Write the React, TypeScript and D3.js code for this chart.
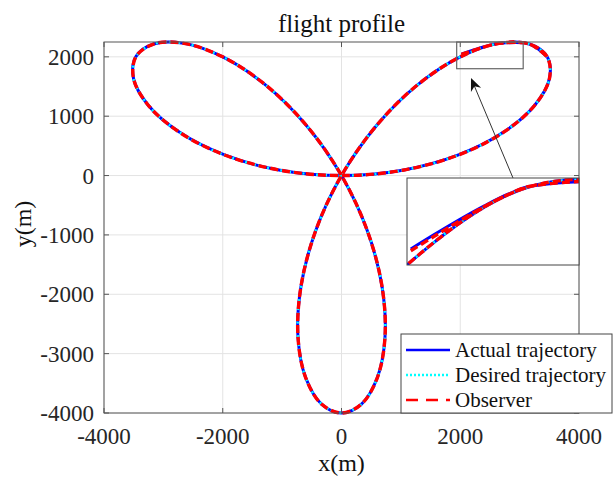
import React from 'react';
import * as d3 from 'd3';

// Reference path (rose-shaped flight plan), sampled every 5 degrees of heading angle
const roseX = [0, 1031, 1970, 2732, 3255, 3502, 3464, 3165, 2654, 2000, 1286, 594, 0, -438, -684, -732, -601, -337, 0, 337, 601, 732, 684, 438, 0, -594, -1286, -2000, -2654, -3165, -3464, -3502, -3255, -2732, -1970, -1031];
const roseY = [0, 90, 347, 732, 1185, 1633, 2000, 2216, 2227, 2000, 1532, 848, 0, -938, -1879, -2732, -3411, -3849, -4000, -3849, -3411, -2732, -1879, -938, 0, 848, 1532, 2000, 2227, 2216, 2000, 1633, 1185, 732, 347, 90];

// Initial transient of the vehicle and of the observer before they lock onto the path
const actualStartX = [2020, 2138, 2273, 2405, 2532];
const actualStartY = [2046, 2086, 2130, 2170, 2204];
const observerStartX = [2020, 2138, 2273, 2405, 2532];
const observerStartY = [2041, 2081, 2126, 2168, 2203];

// Index where the transient joins the reference, then the loop is flown with decreasing angle
const joinIndex = 8;
const extraAfterLoop = 2;

const xTicks = [-4000, -2000, 0, 2000, 4000];
const yTicks = [-4000, -3000, -2000, -1000, 0, 1000, 2000];
const xDomain = [-4000, 4000];
const yDomain = [-4000, 2250];

// Magnified window
const zoomBoxX = [1940, 3060];
const zoomBoxY = [1800, 2250];
const insetX = [2000, 2900];
const insetY = [2000, 2250];

const legendItems = ['Actual trajectory', 'Desired trajectory', 'Observer'];

type Pt = [number, number];

function flownLoop(): Pt[] {
  const n = roseX.length;
  const pts: Pt[] = [];
  for (let k = 0; k <= n + extraAfterLoop; k++) {
    const i = ((joinIndex - k) % n + n) % n;
    pts.push([roseX[i], roseY[i]]);
  }
  return pts;
}

const FONT = '"Liberation Serif", "Times New Roman", Times, serif';

export default function App() {
  const W = 613, H = 478;
  const L = 104, R = 579, T = 42, B = 413;
  const x = d3.scaleLinear().domain(xDomain).range([L, R]);
  const y = d3.scaleLinear().domain(yDomain).range([B, T]);

  const desiredPts: Pt[] = roseX.map((v, i) => [v, roseY[i]]);
  const loop = flownLoop();
  const actualPts: Pt[] = [...actualStartX.map((v, i) => [v, actualStartY[i]] as Pt), ...loop];
  const observerPts: Pt[] = [...observerStartX.map((v, i) => [v, observerStartY[i]] as Pt), ...loop];

  const mk = (sx: d3.ScaleLinear<number, number>, sy: d3.ScaleLinear<number, number>, closed: boolean) =>
    d3.line<Pt>().x(d => sx(d[0])).y(d => sy(d[1])).curve(closed ? d3.curveCatmullRomClosed : d3.curveCatmullRom);

  const curves = (sx: d3.ScaleLinear<number, number>, sy: d3.ScaleLinear<number, number>) => (
    <g>
      <path d={mk(sx, sy, false)(actualPts) || ''} fill="none" stroke="#0000ff" strokeWidth={3} />
      <path d={mk(sx, sy, true)(desiredPts) || ''} fill="none" stroke="#00ffff" strokeWidth={2.4} strokeDasharray="2 2.5" />
      <path d={mk(sx, sy, false)(observerPts) || ''} fill="none" stroke="#ff0000" strokeWidth={3.4} strokeDasharray="8 4" />
    </g>
  );

  // inset axes
  const IL = 407, IR = 579, IT = 178, IB = 265;
  const ix = d3.scaleLinear().domain(insetX).range([IL, IR]);
  const iy = d3.scaleLinear().domain(insetY).range([IB, IT]);

  // annotation arrow
  const tail: Pt = [513, 178];
  const tip: Pt = [471, 78];
  const dx = tip[0] - tail[0], dy = tip[1] - tail[1];
  const len = Math.hypot(dx, dy);
  const ux = dx / len, uy = dy / len;
  const nx = -uy, ny = ux;
  const hl = 13, hw = 5.5, notch = 9;
  const bx = tip[0] - hl * ux, by = tip[1] - hl * uy;
  const head = `M${tip[0]},${tip[1]} L${bx + hw * nx},${by + hw * ny} L${tip[0] - notch * ux},${tip[1] - notch * uy} L${bx - hw * nx},${by - hw * ny} Z`;

  const axisColor = '#555555';
  const gridColor = '#e3e3e3';
  const tickLen = 5;

  const legL = 401, legR = 612, legT = 334, legB = 413;
  const legendRowY = [350, 375, 400];

  return (
    <svg width={W} height={H} style={{ position: 'fixed', left: 0, top: 0, background: '#fff' }} fontFamily={FONT}>
      <defs>
        <clipPath id="insetClip">
          <rect x={IL} y={IT} width={IR - IL} height={IB - IT} />
        </clipPath>
      </defs>
      <rect x={0} y={0} width={W} height={H} fill="#fff" />

      {/* grid */}
      {xTicks.map(t => (
        <line key={'gx' + t} x1={x(t)} x2={x(t)} y1={T} y2={B} stroke={gridColor} strokeWidth={1} />
      ))}
      {yTicks.map(t => (
        <line key={'gy' + t} x1={L} x2={R} y1={y(t)} y2={y(t)} stroke={gridColor} strokeWidth={1} />
      ))}

      {curves(x, y)}

      {/* axes box and ticks */}
      <rect x={L} y={T} width={R - L} height={B - T} fill="none" stroke={axisColor} strokeWidth={1} />
      {xTicks.map(t => (
        <g key={'tx' + t}>
          <line x1={x(t)} x2={x(t)} y1={B} y2={B - tickLen} stroke={axisColor} />
          <line x1={x(t)} x2={x(t)} y1={T} y2={T + tickLen} stroke={axisColor} />
          <text x={x(t)} y={444} textAnchor="middle" fontSize={23} fill="#262626" fontFamily={FONT}>{t}</text>
        </g>
      ))}
      {yTicks.map(t => (
        <g key={'ty' + t}>
          <line x1={L} x2={L + tickLen} y1={y(t)} y2={y(t)} stroke={axisColor} />
          <line x1={R} x2={R - tickLen} y1={y(t)} y2={y(t)} stroke={axisColor} />
          <text x={94} y={y(t) + 8} textAnchor="end" fontSize={23} fill="#262626" fontFamily={FONT}>{t}</text>
        </g>
      ))}

      {/* magnified window marker */}
      <rect x={x(zoomBoxX[0])} y={y(zoomBoxY[1])} width={x(zoomBoxX[1]) - x(zoomBoxX[0])} height={y(zoomBoxY[0]) - y(zoomBoxY[1])}
        fill="none" stroke="#666" strokeWidth={1.2} />

      {/* arrow */}
      <line x1={tail[0]} y1={tail[1]} x2={tip[0] - 8 * ux} y2={tip[1] - 8 * uy} stroke="#333" strokeWidth={1} />
      <path d={head} fill="#111" />

      {/* inset */}
      <rect x={IL} y={IT} width={IR - IL} height={IB - IT} fill="#fff" />
      <g clipPath="url(#insetClip)">{curves(ix, iy)}</g>
      <rect x={IL} y={IT} width={IR - IL} height={IB - IT} fill="none" stroke="#444" strokeWidth={1} />

      {/* legend */}
      <rect x={legL} y={legT} width={legR - legL} height={legB - legT} fill="#fff" stroke="#444" strokeWidth={1} />
      <line x1={406} x2={450} y1={legendRowY[0]} y2={legendRowY[0]} stroke="#0000ff" strokeWidth={2.6} />
      <line x1={406} x2={450} y1={legendRowY[1]} y2={legendRowY[1]} stroke="#00ffff" strokeWidth={2.6} strokeDasharray="2 2" />
      <line x1={406} x2={450} y1={legendRowY[2]} y2={legendRowY[2]} stroke="#ff0000" strokeWidth={2.6} strokeDasharray="12 8" />
      {legendItems.map((s, i) => (
        <text key={s} x={455} y={legendRowY[i] + 6.5} fontSize={21} fill="#111">{s}</text>
      ))}

      {/* titles */}
      <text x={(L + R) / 2} y={32} textAnchor="middle" fontSize={25} fill="#111">flight profile</text>
      <text x={(L + R) / 2} y={471} textAnchor="middle" fontSize={24} fill="#111">x(m)</text>
      <text transform={`translate(31, 224) rotate(-90)`} textAnchor="middle" fontSize={24} fill="#111">y(m)</text>
    </svg>
  );
}
